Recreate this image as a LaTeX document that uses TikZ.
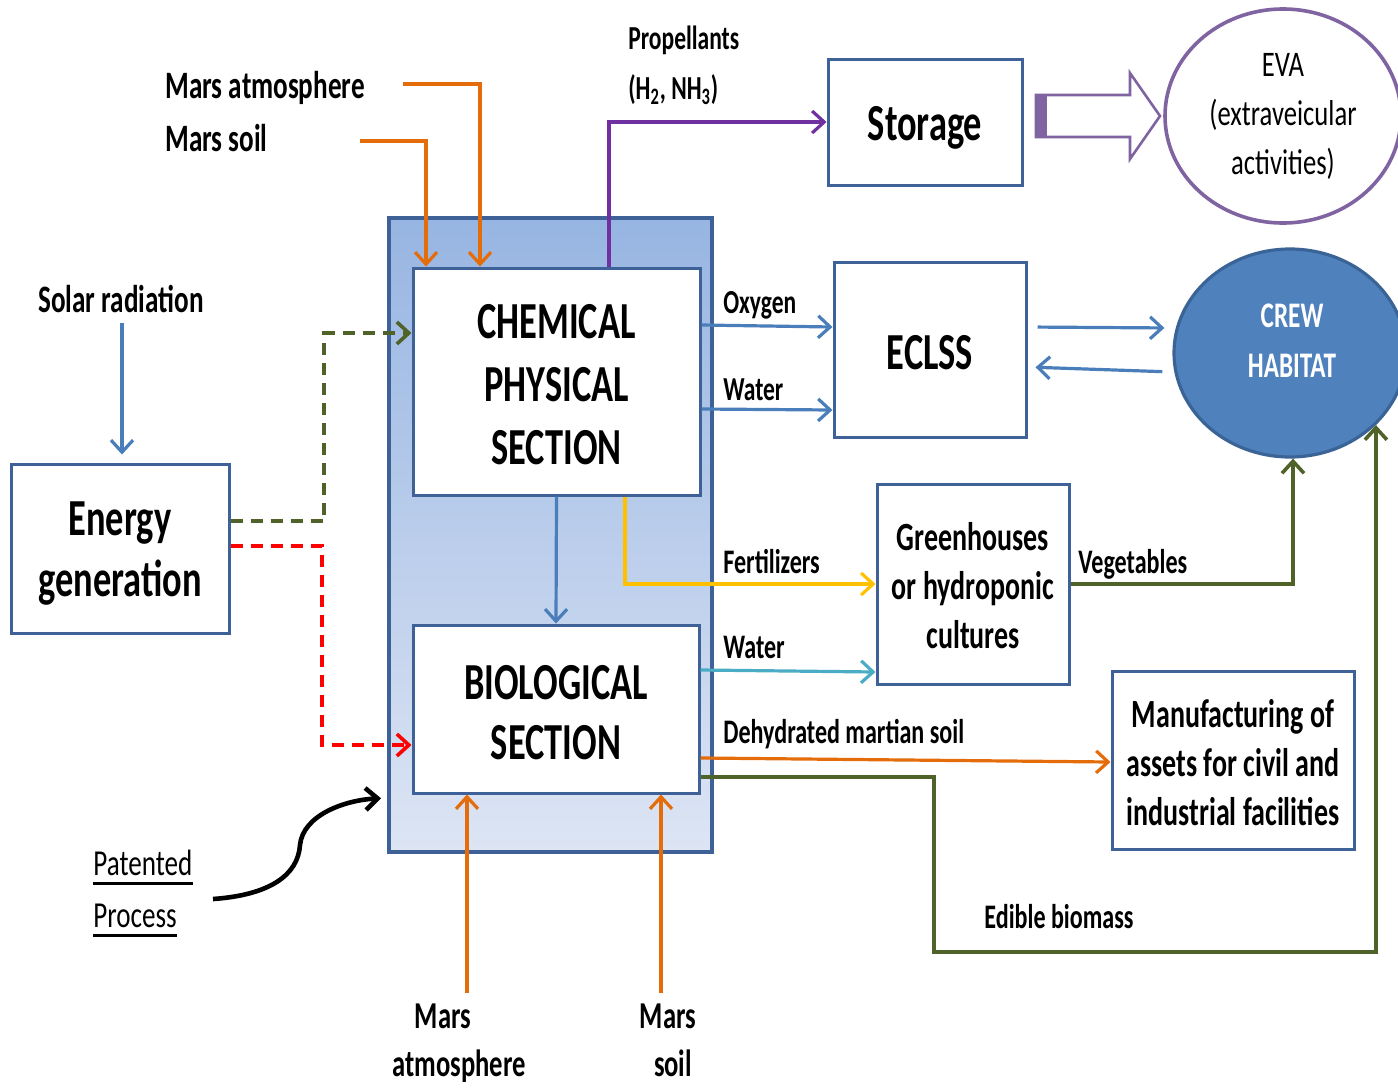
\documentclass[tikz,border=0pt]{standalone}
\usepackage{fontspec}
\setmainfont{Carlito}[FakeStretch=0.70]
\newfontfamily\regf{Carlito}[FakeStretch=0.74]
\usetikzlibrary{arrows.meta,shapes.geometric,calc}
\definecolor{boxc}{HTML}{3E6297}
\definecolor{outtop}{HTML}{97B5E2}
\definecolor{outbot}{HTML}{DDE5F4}
\definecolor{orc}{HTML}{E46C0A}
\definecolor{bluec}{HTML}{4A7EBB}
\definecolor{olivec}{HTML}{4F6228}
\definecolor{purpc}{HTML}{7030A0}
\definecolor{evac}{HTML}{8064A2}
\definecolor{yelc}{HTML}{FFC000}
\definecolor{cyanc}{HTML}{4BACC6}
\definecolor{crewc}{HTML}{4F81BD}
\definecolor{crewb}{HTML}{3A6396}
\newcommand\fsz[2]{\fontsize{#1}{#2}\selectfont}
\begin{document}
\begin{tikzpicture}[x=0.5pt,y=-0.5pt,
  box/.style={draw=boxc,line width=1.5pt,fill=white,inner sep=0pt},
  btxt/.style={inner sep=0pt,align=center},
  arr/.style={line width=1.6pt,-{Straight Barb[length=6pt,width=11pt]}},
  lbl/.style={anchor=base west,inner sep=0pt,font=\bfseries\fsz{17.2}{20}},
  biglbl/.style={anchor=base west,inner sep=0pt,font=\bfseries\fsz{19.4}{22}},
  smlbl/.style={anchor=base west,inner sep=0pt,font=\bfseries\fsz{16.8}{18}},
  botlbl/.style={anchor=base,inner sep=0pt,font=\bfseries\fsz{19}{22}}]
\useasboundingbox (0,0) rectangle (1398,1088);
% container
\node[draw=boxc,line width=2pt,top color=outtop,bottom color=outbot,
  minimum width=161.5pt,minimum height=317pt,inner sep=0pt] (outer) at (550.5,535) {};
% boxes
\node[box,minimum width=143.5pt,minimum height=113.5pt] (chem) at (556.5,381.5) {};
\node[btxt,font=\bfseries\fsz{26}{31.5}] (chemt) at ([yshift=-1.5pt]chem.center) {CHEMICAL\\PHYSICAL\\SECTION};
\node[box,minimum width=143pt,minimum height=84pt] (bio) at (556,709) {};
\node[btxt,font=\bfseries\fsz{26}{30}] (biot) at ([yshift=-2pt]bio.center) {BIOLOGICAL\\SECTION};
\node[box,minimum width=109pt,minimum height=84.5pt] (energy) at (120,548.5) {};
\node[btxt,font=\bfseries\fsz{26}{30.5}] (energyt) at ([yshift=-2.5pt]energy.center) {Energy\\generation};
\node[box,minimum width=97pt,minimum height=63pt] (storage) at (925,122) {};
\node[btxt,font=\bfseries\fsz{26}{30}] (storaget) at ([yshift=-3pt]storage.center) {Storage};
\node[box,minimum width=96pt,minimum height=87.5pt] (eclss) at (930,349.5) {};
\node[btxt,font=\bfseries\fsz{26}{30}] (eclsst) at ([yshift=-1.5pt]eclss.center) {ECLSS};
\node[box,minimum width=96pt,minimum height=100pt] (green) at (973,584) {};
\node[btxt,font=\bfseries\fsz{20}{24.5}] (greent) at ([yshift=-1pt]green.center) {Greenhouses\\or hydroponic\\cultures};
\node[box,minimum width=121pt,minimum height=89pt] (manuf) at (1233,760) {};
\node[btxt,font=\bfseries\fsz{20}{24.5}] (manuft) at ([yshift=-1.2pt]manuf.center) {Manufacturing of\\assets for civil and\\industrial facilities};
% ellipses
\node[ellipse,draw=evac,line width=1.8pt,fill=white,minimum width=118pt,minimum height=107pt,inner sep=0pt,
  align=center,font=\regf\fsz{18}{24.5}] (eva) at (1283,116) {EVA\\(extraveicular\\activities)};
\node[ellipse,draw=crewb,line width=1.6pt,fill=crewc,minimum width=116pt,minimum height=104pt,inner sep=0pt] (crew) at (1290,353) {};
\node[align=center,text=white,font=\bfseries\fsz{18}{25},inner sep=0pt] (crewt) at (1292,341) {CREW\\HABITAT};
% labels
\node[smlbl] (prop) at (628,49) {Propellants};
\node[smlbl] (h2) at (628,99) {(H\textsubscript{2}, NH\textsubscript{3})};
\node[biglbl] (matm) at (165,98) {Mars atmosphere};
\node[biglbl] (msoil) at (165,151) {Mars soil};
\node[biglbl] (solar) at (38,312) {Solar radiation};
\node[smlbl] (oxy) at (723,313) {Oxygen};
\node[smlbl] (wat1) at (723,400) {Water};
\node[lbl] (fert) at (723,573) {Fertilizers};
\node[lbl] (wat2) at (723,658) {Water};
\node[lbl] (dehy) at (723,743) {Dehydrated martian soil};
\node[lbl] (veg) at (1078,573) {Vegetables};
\node[lbl] (edib) at (984,928) {Edible biomass};
\node[anchor=base west,inner sep=0pt,font=\regf\fsz{18.3}{20}] (pat) at (93,875) {Patented\ };
\node[anchor=base west,inner sep=0pt,font=\regf\fsz{18.3}{20}] (proc) at (93,927) {Process};
\draw[line width=1.5pt] ($(pat.base west)+(0,8)$) -- ($(pat.base east)+(0,8)$);
\draw[line width=1.5pt] ($(proc.base west)+(0,8)$) -- ($(proc.base east)+(0,8)$);
\node[botlbl] (bm1) at (443,1028) {Mars};
\node[botlbl] (bm2) at (459,1076) {atmosphere};
\node[botlbl] (bs1) at (668,1028) {Mars};
\node[botlbl] (bs2) at (673,1076) {soil};
% connectors
\draw[arr,orc] ($(matm.base -| 403,0)+(0,-14)$) -| (chem.north -| 480,0);
\draw[arr,orc] ($(msoil.base -| 360,0)+(0,-10)$) -| (chem.north -| 426,0);
\draw[arr,purpc] (chem.north -| 609,0) |- (storage.west);
\draw[arr,bluec,shorten <=5pt,shorten >=4pt] (solar.south -| 122,0) -- (energy.north -| 122,0);
\draw[arr,olivec,dash pattern=on 6pt off 4pt,line width=1.8pt] (energy.east |- 0,521) -- (324,521) -- (324,333) -- (chem.west |- 0,333);
\draw[arr,red,dash pattern=on 6pt off 4pt,line width=1.8pt] (energy.east |- 0,546) -- (322,546) -- (322,745) -- (bio.west |- 0,745);
\draw[arr,bluec] (chem.south) -- (bio.north);
\draw[arr,bluec] (chem.east |- 0,325) -- (eclss.west |- 0,327);
\draw[arr,bluec] (chem.east |- 0,409) -- (eclss.west |- 0,410);
\draw[arr,bluec,shorten <=5pt,shorten >=4pt] (eclss.east |- 0,327) -- (crew.west |- 0,328);
\draw[arr,bluec,shorten <=5pt,shorten >=4pt] (crew.west |- 0,372) -- (eclss.east |- 0,367);
\draw[arr,yelc] (chem.south -| 625,0) |- (green.west);
\draw[arr,cyanc] (bio.east |- 0,670) -- (green.west |- 0,672);
\draw[arr,olivec,line width=1.8pt] (green.east) -| (crew.south -| 1293,0);
\draw[arr,orc] (bio.east |- 0,758) -- (manuf.west |- 0,762);
\draw[arr,olivec,line width=1.8pt] (bio.east |- 0,777) -| (934,952) -- (crew.-40 |- 0,952) -- (crew.-40);
\draw[arr,orc,shorten <=5pt] (bm1.north -| 467,0) -- (bio.south -| 467,0);
\draw[arr,orc,shorten <=5pt] (bs1.north -| 661,0) -- (bio.south -| 661,0);
\coordinate (pstart) at (213,899);
\draw[arr,black,line width=2.3pt,shorten >=3pt] (pstart) .. controls (270,895) and (298,875) .. (300,845)
  .. controls (303,815) and (345,800) .. (outer.west |- 0,798);
% big hollow arrow storage -> EVA
\draw[evac,line width=1.3pt,fill=white] (1036,95) -- (1130,95) -- (1130,73) -- (1160,116) -- (1130,159) -- (1130,137) -- (1036,137) -- cycle;
\fill[evac] (1035,95) rectangle (1047,137);
\end{tikzpicture}
\end{document}
